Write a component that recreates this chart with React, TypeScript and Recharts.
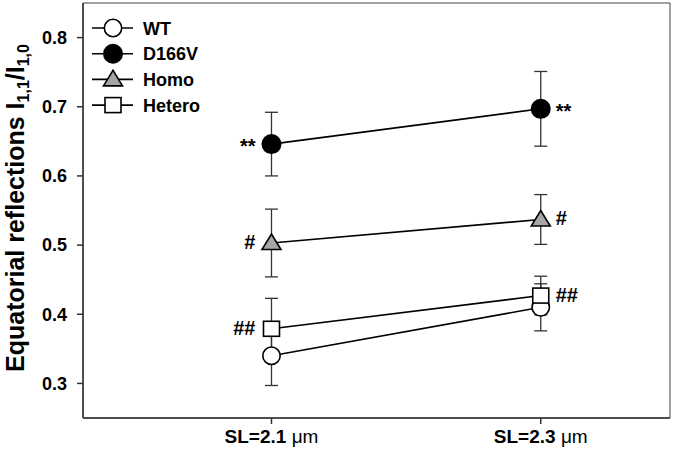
import {
  ComposedChart,
  Line,
  XAxis,
  YAxis,
  ErrorBar,
  LabelList,
  Legend,
  ReferenceArea,
} from "recharts"

const SL = [1, 2]
const SL_LABELS = ["SL=2.1 ", "SL=2.3 "]
const Y_TICKS = [0.3, 0.4, 0.5, 0.6, 0.7, 0.8]

const WT = [0.34, 0.41]
const WT_ERR = [0.043, 0.034]
const D166V = [0.646, 0.697]
const D166V_ERR = [0.046, 0.054]
const HOMO = [0.503, 0.537]
const HOMO_ERR = [0.049, 0.036]
const HETERO = [0.379, 0.427]
const HETERO_ERR = [0.044, 0.028]

const D166V_MARKS = ["**", "**"]
const HOMO_MARKS = ["#", "#"]
const HETERO_MARKS = ["##", "##"]

const SERIES_NAMES = ["WT", "D166V", "Homo", "Hetero"]

const FONT = '"Liberation Sans", Arial, Helvetica, sans-serif'
const GRAY = "#a6a6a6"

const data = SL.map((x, i) => ({
  x,
  wt: WT[i],
  wtErr: WT_ERR[i],
  d166v: D166V[i],
  d166vErr: D166V_ERR[i],
  homo: HOMO[i],
  homoErr: HOMO_ERR[i],
  hetero: HETERO[i],
  heteroErr: HETERO_ERR[i],
}))

type Kind = "circle" | "dot" | "triangle" | "square"

function Marker({ kind, cx, cy }: { kind: Kind; cx: number; cy: number }) {
  const sw = 1.6
  if (kind === "circle") return <circle cx={cx} cy={cy} r={8.7} fill="#fff" stroke="#000" strokeWidth={sw} />
  if (kind === "dot") return <circle cx={cx} cy={cy} r={9.2} fill="#000" stroke="#000" strokeWidth={sw} />
  if (kind === "triangle") {
    const pts = `${cx - 9.5},${cy + 6.5} ${cx + 9.5},${cy + 6.5} ${cx},${cy - 9}`
    return <polygon points={pts} fill={GRAY} stroke="#000" strokeWidth={sw} />
  }
  return <rect x={cx - 8} y={cy - 7.5} width={16} height={15} fill="#fff" stroke="#000" strokeWidth={sw} />
}

const KINDS: Kind[] = ["circle", "dot", "triangle", "square"]

const dotFor = (kind: Kind) => (p: any) => (
  <Marker key={`${kind}-${p.index}`} kind={kind} cx={p.cx} cy={p.cy} />
)

const markLabel = (marks: string[], dy: number) => (p: any) => {
  const left = p.index === 0
  return (
    <text
      key={`m-${p.index}`}
      x={p.x + (left ? -16 : 15)}
      y={p.y + dy}
      textAnchor={left ? "end" : "start"}
      fontFamily={FONT}
      fontWeight="bold"
      fontSize={20}
      fill="#000"
    >
      {marks[p.index]}
    </text>
  )
}

function LegendBox() {
  return (
    <svg width={220} height={130} style={{ display: "block" }}>
      {SERIES_NAMES.map((name, i) => {
        const y = 28 + i * 25.7
        return (
          <g key={name}>
            <line x1={92} x2={133} y1={y} y2={y} stroke="#000" strokeWidth={1.6} />
            <Marker kind={KINDS[i]} cx={113} cy={y} />
            <text
              x={143}
              y={y + 6.5}
              fontFamily={FONT}
              fontWeight="bold"
              fontSize={18}
              fill="#000"
            >
              {name}
            </text>
          </g>
        )
      })}
    </svg>
  )
}

function YLabel() {
  return (
    <text
      x={24}
      y={208}
      transform="rotate(-90 24 208)"
      textAnchor="middle"
      fontFamily={FONT}
      fontWeight="bold"
      fontSize={25}
      fill="#000"
    >
      Equatorial reflections I
      <tspan dy={5} fontSize={16}>1,1</tspan>
      <tspan dy={-5}>/I</tspan>
      <tspan dy={5} fontSize={16}>1,0</tspan>
    </text>
  )
}

function XTick(p: any) {
  const label = SL_LABELS[p.payload.value - 1]
  return (
    <text
      x={p.x}
      y={p.y + 17}
      textAnchor="middle"
      fontFamily={FONT}
      fontSize={19}
      fill="#000"
    >
      <tspan fontWeight="bold">{label}</tspan>
      <tspan>μm</tspan>
    </text>
  )
}

export default function App() {
  const tickStyle = { fontFamily: FONT, fontWeight: "bold", fontSize: 18, fill: "#000" }
  return (
    <div style={{ width: 677, height: 453, background: "#fff" }}>
      <style>{`body{margin:0}`}</style>
      <ComposedChart
        width={677}
        height={453}
        data={data}
        margin={{ top: 3, right: 7, bottom: 0, left: 0 }}
      >
        <XAxis
          type="number"
          dataKey="x"
          domain={[0.3, 2.48]}
          ticks={SL}
          allowDataOverflow
          height={35}
          tickSize={6}
          tick={<XTick />}
          stroke="#333"
          strokeWidth={1.5}
        />
        <YAxis
          type="number"
          domain={[0.25, 0.85]}
          ticks={Y_TICKS}
          allowDataOverflow
          width={83}
          tickSize={6}
          tickMargin={10}
          tick={tickStyle}
          tickFormatter={(v: number) => v.toFixed(1)}
          stroke="#333"
          strokeWidth={1.5}
          label={{ content: () => <YLabel /> }}
        />
        <ReferenceArea
          x1={0.3}
          x2={2.48}
          y1={0.25}
          y2={0.85}
          fill="none"
          stroke="#444"
          strokeWidth={1}
          ifOverflow="visible"
        />
        <Line
          dataKey="wt"
          stroke="#000"
          strokeWidth={1.6}
          dot={dotFor("circle")}
          isAnimationActive={false}
        >
          <ErrorBar dataKey="wtErr" direction="y" width={6.5} stroke="#333" strokeWidth={1.3} />
        </Line>
        <Line
          dataKey="d166v"
          stroke="#000"
          strokeWidth={1.6}
          dot={dotFor("dot")}
          isAnimationActive={false}
        >
          <ErrorBar dataKey="d166vErr" direction="y" width={6.5} stroke="#333" strokeWidth={1.3} />
          <LabelList dataKey="d166v" content={markLabel(D166V_MARKS, 9)} />
        </Line>
        <Line
          dataKey="homo"
          stroke="#000"
          strokeWidth={1.6}
          dot={dotFor("triangle")}
          isAnimationActive={false}
        >
          <ErrorBar dataKey="homoErr" direction="y" width={6.5} stroke="#333" strokeWidth={1.3} />
          <LabelList dataKey="homo" content={markLabel(HOMO_MARKS, 6)} />
        </Line>
        <Line
          dataKey="hetero"
          stroke="#000"
          strokeWidth={1.6}
          dot={dotFor("square")}
          isAnimationActive={false}
        >
          <ErrorBar dataKey="heteroErr" direction="y" width={6.5} stroke="#333" strokeWidth={1.3} />
          <LabelList dataKey="hetero" content={markLabel(HETERO_MARKS, 6)} />
        </Line>
        <Legend
          content={() => <LegendBox />}
          layout="vertical"
          align="center"
          verticalAlign="middle"
          wrapperStyle={{ left: 0, top: 0, width: 220, height: 130 }}
        />
      </ComposedChart>
    </div>
  )
}
